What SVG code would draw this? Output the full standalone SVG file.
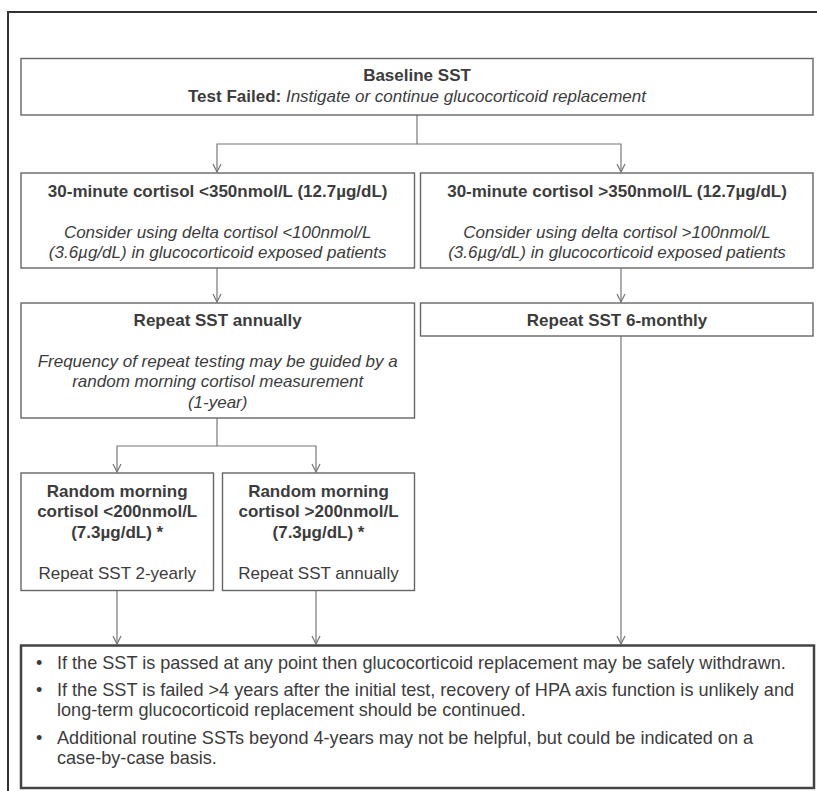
<svg xmlns="http://www.w3.org/2000/svg" width="817" height="791" viewBox="0 0 817 791">
<style>
text{font-family:"Liberation Sans",Arial,sans-serif;font-size:17px;fill:#3c3c3c}
.b{font-weight:bold}
.i{font-style:italic}
.c{text-anchor:middle}
.s{font-size:18.1px}
.box{fill:#fff;stroke:#666;stroke-width:1.4}
.con{fill:none;stroke:#777;stroke-width:1.2}
</style>
<defs>
<marker id="ah" viewBox="0 0 10 10" refX="9" refY="5" markerWidth="10" markerHeight="10" markerUnits="userSpaceOnUse" orient="auto">
<path d="M1,1 L9,5 L1,9" fill="none" stroke="#777" stroke-width="1.2"/>
</marker>
</defs>
<rect x="0" y="0" width="817" height="791" fill="#fff"/>
<rect x="8" y="12" width="830" height="800" fill="none" stroke="#333" stroke-width="2"/>

<g id="connectors">
<path class="con" d="M417,115 V144 H217 V172" marker-end="url(#ah)"/>
<path class="con" d="M417,144 H621 V172" marker-end="url(#ah)"/>
<path class="con" d="M217,268 V302" marker-end="url(#ah)"/>
<path class="con" d="M621,268 V302" marker-end="url(#ah)"/>
<path class="con" d="M217,418 V446 H117 V472" marker-end="url(#ah)"/>
<path class="con" d="M217,446 H316 V472" marker-end="url(#ah)"/>
<path class="con" d="M117,591 V644" marker-end="url(#ah)"/>
<path class="con" d="M316,591 V644" marker-end="url(#ah)"/>
<path class="con" d="M621,336 V644" marker-end="url(#ah)"/>
</g>

<g id="baseline">
<rect class="box" x="21" y="58.5" width="792" height="56.5"/>
<text class="b c" x="417" y="81">Baseline SST</text>
<text class="c" x="417" y="101.5"><tspan class="b">Test Failed: </tspan><tspan class="i">Instigate or continue glucocorticoid replacement</tspan></text>
</g>

<g id="low30">
<rect class="box" x="21" y="173" width="393.5" height="95"/>
<text class="b c" x="217.7" y="197">30-minute cortisol &lt;350nmol/L (12.7µg/dL)</text>
<text class="i c" x="217.7" y="237.5">Consider using delta cortisol &lt;100nmol/L</text>
<text class="i c" x="217.7" y="257.5">(3.6µg/dL) in glucocorticoid exposed patients</text>
</g>

<g id="high30">
<rect class="box" x="420.5" y="173" width="392.5" height="95"/>
<text class="b c" x="617" y="197">30-minute cortisol &gt;350nmol/L (12.7µg/dL)</text>
<text class="i c" x="617" y="237.5">Consider using delta cortisol &gt;100nmol/L</text>
<text class="i c" x="617" y="257.5">(3.6µg/dL) in glucocorticoid exposed patients</text>
</g>

<g id="annual">
<rect class="box" x="21" y="303" width="393.5" height="115"/>
<text class="b c" x="217.7" y="325.5">Repeat SST annually</text>
<text class="i c" x="217.7" y="367">Frequency of repeat testing may be guided by a</text>
<text class="i c" x="217.7" y="387">random morning cortisol measurement</text>
<text class="i c" x="217.7" y="407.5">(1-year)</text>
</g>

<g id="sixmonthly">
<rect class="box" x="420.5" y="303" width="392.5" height="33"/>
<text class="b c" x="617" y="325.5">Repeat SST 6-monthly</text>
</g>

<g id="lowrandom">
<rect class="box" x="21" y="473" width="192.5" height="117.5"/>
<text class="b c" x="117.2" y="496.5">Random morning</text>
<text class="b c" x="117.2" y="517">cortisol &lt;200nmol/L</text>
<text class="b c" x="117.2" y="537.5">(7.3µg/dL) *</text>
<text class="c" x="117.2" y="579">Repeat SST 2-yearly</text>
</g>

<g id="highrandom">
<rect class="box" x="222.5" y="473" width="192" height="117.5"/>
<text class="b c" x="318.5" y="496.5">Random morning</text>
<text class="b c" x="318.5" y="517">cortisol &gt;200nmol/L</text>
<text class="b c" x="318.5" y="537.5">(7.3µg/dL) *</text>
<text class="c" x="318.5" y="579">Repeat SST annually</text>
</g>

<g id="summary">
<rect x="21" y="645.5" width="793" height="142.5" fill="#fff" stroke="#444" stroke-width="2.5"/>
<text class="s" x="36" y="668.5">•</text>
<text class="s" x="57" y="668.5">If the SST is passed at any point then glucocorticoid replacement may be safely withdrawn.</text>
<text class="s" x="36" y="695.5">•</text>
<text class="s" x="57" y="695.5">If the SST is failed &gt;4 years after the initial test, recovery of HPA axis function is unlikely and</text>
<text class="s" x="57" y="716">long-term glucocorticoid replacement should be continued.</text>
<text class="s" x="36" y="743.5">•</text>
<text class="s" x="57" y="743.5">Additional routine SSTs beyond 4-years may not be helpful, but could be indicated on a</text>
<text class="s" x="57" y="764">case-by-case basis.</text>
</g>
</svg>
